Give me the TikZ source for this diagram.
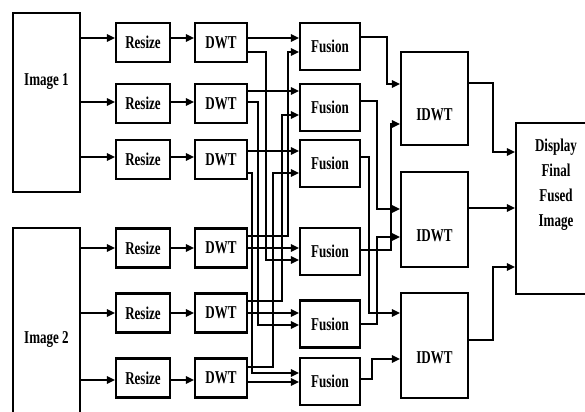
\documentclass[tikz,border=0pt]{standalone}
\usepackage{fontspec}
\setmainfont{Liberation Serif}
\usepackage{graphicx}
\usetikzlibrary{arrows.meta}
\newcommand{\nar}[1]{\scalebox{0.72}[1]{#1}}
\newcommand{\mv}[2]{\raisebox{#1}[0pt][0pt]{#2}}

\begin{document}
\begin{tikzpicture}[
  x=0.02cm, y=-0.02cm,
  font=\fontsize{10.3}{14.2}\selectfont\bfseries,
  blk/.style 2 args={draw, line width=1.2pt, inner sep=0pt, minimum width=#1*0.02cm, minimum height=#2*0.02cm},
  rsz/.style={blk={54}{39}},
  dwt/.style={blk={52}{39}},
  fus/.style={blk={60}{47}},
  inv/.style={blk={67}{#1}},
  arr/.style={-{Triangle[length=4.6pt,width=4.2pt]}, line width=1.1pt},
  ]
\useasboundingbox (0,0) rectangle (585,412);
\clip (0,0) rectangle (585,412);
% sources
\node[blk={67}{179}] (img1) at (46.5,102.5) {\mv{9.4pt}{\nar{Image 1}}};
\node[blk={67}{224}] (img2) at (46.5,340)   {\nar{Image 2}};
% resize column
\node[rsz] (rs1) at (143,42.5)  {\nar{Resize}};
\node[rsz] (rs2) at (143,103.5) {\nar{Resize}};
\node[rsz] (rs3) at (143,159.5) {\nar{Resize}};
\node[rsz] (rs4) at (143,248)   {\nar{Resize}};
\node[rsz] (rs5) at (143,313)   {\nar{Resize}};
\node[rsz] (rs6) at (143,378)   {\nar{Resize}};
% dwt column
\node[dwt] (dwt1) at (221,42.5)  {\nar{DWT}};
\node[dwt] (dwt2) at (221,103.5) {\nar{DWT}};
\node[dwt] (dwt3) at (221,159.5) {\nar{DWT}};
\node[dwt] (dwt4) at (221,248)   {\nar{DWT}};
\node[dwt] (dwt5) at (221,313)   {\nar{DWT}};
\node[dwt] (dwt6) at (221,378)   {\nar{DWT}};
% fusion column
\node[fus] (fus1) at (330,46.5)  {\nar{Fusion}};
\node[fus] (fus2) at (330,107.5) {\nar{Fusion}};
\node[fus] (fus3) at (330,163.5) {\nar{Fusion}};
\node[fus] (fus4) at (330,251.5) {\nar{Fusion}};
\node[fus] (fus5) at (330,324)   {\nar{Fusion}};
\node[fus] (fus6) at (330,381.5) {\nar{Fusion}};
% inverse transform and output
\node[inv=93]  (idwt1) at (434.5,98.5)  {\mv{-12.5pt}{\nar{IDWT}}};
\node[inv=95]  (idwt2) at (434.5,219.5) {\mv{-12.5pt}{\nar{IDWT}}};
\node[inv=105] (idwt3) at (434.5,345.5) {\mv{-10pt}{\nar{IDWT}}};
\node[blk={80}{171}] (disp) at (556,208.5) {\mv{11.6pt}{\nar{\begin{tabular}{@{}c@{}}Display\\Final\\Fused\\Image\end{tabular}}}};
% image -> resize -> dwt
\draw[arr] (img1.east |- 0,38)  -- (rs1.west |- 0,38);
\draw[arr] (img1.east |- 0,102) -- (rs2.west |- 0,102);
\draw[arr] (img1.east |- 0,157) -- (rs3.west |- 0,157);
\draw[arr] (img2.east |- 0,248) -- (rs4.west |- 0,248);
\draw[arr] (img2.east |- 0,313) -- (rs5.west |- 0,313);
\draw[arr] (img2.east |- 0,380) -- (rs6.west |- 0,380);
\draw[arr] (rs1.east |- 0,38)  -- (dwt1.west |- 0,38);
\draw[arr] (rs2.east |- 0,102) -- (dwt2.west |- 0,102);
\draw[arr] (rs3.east |- 0,157) -- (dwt3.west |- 0,157);
\draw[arr] (rs4.east |- 0,248) -- (dwt4.west |- 0,248);
\draw[arr] (rs5.east |- 0,313) -- (dwt5.west |- 0,313);
\draw[arr] (rs6.east |- 0,380) -- (dwt6.west |- 0,380);
% dwt -> fusion, straight
\draw[arr] (dwt1.east |- 0,38)  -- (fus1.west |- 0,38);
\draw[arr] (dwt2.east |- 0,91)  -- (fus2.west |- 0,91);
\draw[arr] (dwt3.east |- 0,151) -- (fus3.west |- 0,151);
\draw[arr] (dwt4.east |- 0,248) -- (fus4.west |- 0,248);
\draw[arr] (dwt5.east |- 0,313) -- (fus5.west |- 0,313);
\draw[arr] (dwt6.east |- 0,382) -- (fus6.west |- 0,382);
% dwt -> fusion, crossing
\draw[arr] (dwt1.east |- 0,52)  -| (266,260) -- (fus4.west |- 0,260);
\draw[arr] (dwt2.east |- 0,102) -| (258,325) -- (fus5.west |- 0,325);
\draw[arr] (dwt3.east |- 0,173) -| (252,373) -- (fus6.west |- 0,373);
\draw[arr] (dwt4.east |- 0,236) -| (288,52)  -- (fus1.west |- 0,52);
\draw[arr] (dwt5.east |- 0,301) -| (282,115) -- (fus2.west |- 0,115);
\draw[arr] (dwt6.east |- 0,367) -| (273,173) -- (fus3.west |- 0,173);
% fusion -> idwt
\draw[arr] (fus1.east |- 0,37)  -| (387,84)  -- (idwt1.west |- 0,84);
\draw[arr] (fus4.east |- 0,250) -| (391,124) -- (idwt1.west |- 0,124);
\draw[arr] (fus2.east |- 0,101) -| (377,209) -- (idwt2.west |- 0,209);
\draw[arr] (fus5.east |- 0,324) -| (377,237) -- (idwt2.west |- 0,237);
\draw[arr] (fus3.east |- 0,157) -| (369,313) -- (idwt3.west |- 0,313);
\draw[arr] (fus6.east |- 0,379) -| (372,359) -- (idwt3.west |- 0,359);
% idwt -> display
\draw[arr] (idwt1.east |- 0,83)  -| (493,152) -- (disp.west |- 0,152);
\draw[arr] (idwt2.east |- 0,208) -- (disp.west |- 0,208);
\draw[arr] (idwt3.east |- 0,340) -| (493,267) -- (disp.west |- 0,267);
\end{tikzpicture}
\end{document}
